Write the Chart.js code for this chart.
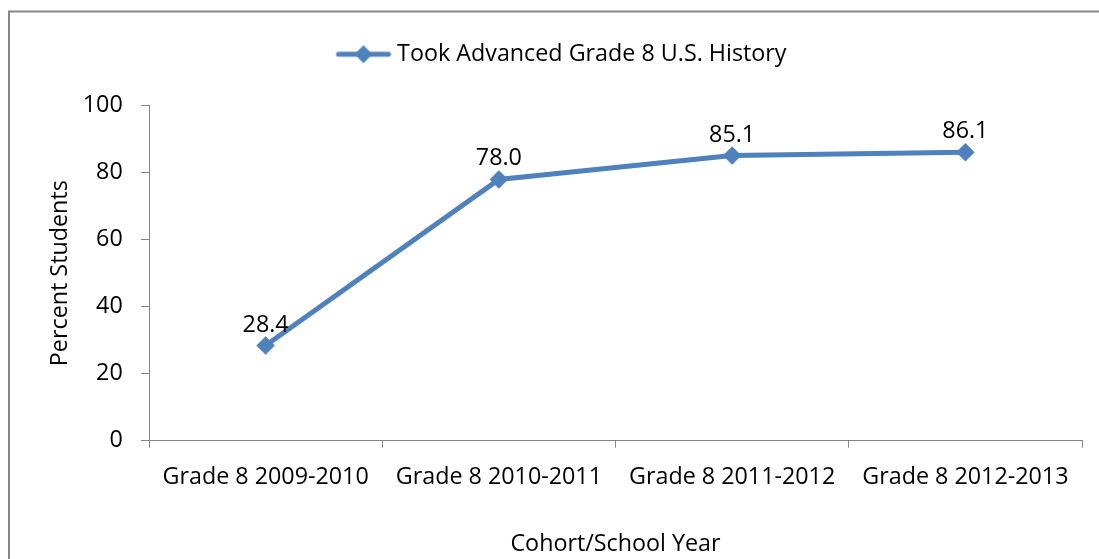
<!DOCTYPE html>
<html>
<head>
<meta charset="utf-8">
<script src="https://cdn.jsdelivr.net/npm/chart.js@4.4.1/dist/chart.umd.min.js"></script>
<style>
  html, body { margin: 0; padding: 0; background: #ffffff; }
  #wrap { position: relative; width: 1099px; height: 559px; }
</style>
</head>
<body>
<div id="wrap"><canvas id="c"></canvas></div>
<script>
const categories = ['Grade 8 2009-2010', 'Grade 8 2010-2011', 'Grade 8 2011-2012', 'Grade 8 2012-2013'];
const seriesName = 'Took Advanced Grade 8 U.S. History';
const seriesValues = [28.4, 78.0, 85.1, 86.1];
const yTicks = [0, 20, 40, 60, 80, 100];
const xTitle = 'Cohort/School Year';
const yTitle = 'Percent Students';

const LINE = '#4F81BD';
const AXIS = '#868686';
const FONT = "'Open Sans', 'Liberation Sans', sans-serif";
const FS = 23.3;

// legend symbol: line with diamond
const sym = document.createElement('canvas');
sym.width = 58; sym.height = 20;
(function () {
  const g = sym.getContext('2d');
  g.strokeStyle = LINE; g.lineWidth = 5; g.lineCap = 'round';
  g.beginPath(); g.moveTo(4, 10); g.lineTo(54, 10); g.stroke();
  g.fillStyle = LINE;
  g.beginPath(); g.moveTo(29 - 9, 10); g.lineTo(29, 1); g.lineTo(29 + 9, 10); g.lineTo(29, 19); g.closePath(); g.fill();
})();

const frame = {
  id: 'frame',
  beforeDraw(chart) {
    const ctx = chart.ctx;
    ctx.save();
    ctx.fillStyle = '#ffffff';
    ctx.fillRect(0, 0, chart.width, chart.height);
    ctx.strokeStyle = AXIS; ctx.lineWidth = 2;
    ctx.beginPath();
    ctx.moveTo(9, chart.height); ctx.lineTo(9, 11.5); ctx.lineTo(chart.width, 11.5);
    ctx.stroke();
    ctx.restore();
  }
};

const valueLabels = {
  id: 'valueLabels',
  afterDatasetsDraw(chart) {
    const ctx = chart.ctx;
    ctx.save();
    ctx.font = FS + 'px ' + FONT;
    ctx.fillStyle = '#000000';
    ctx.textAlign = 'center';
    ctx.textBaseline = 'alphabetic';
    chart.data.datasets.forEach((ds, di) => {
      const meta = chart.getDatasetMeta(di);
      meta.data.forEach((el, i) => {
        ctx.fillText(Number(ds.data[i]).toFixed(1), el.x, el.y - 14);
      });
    });
    ctx.restore();
  }
};

new Chart(document.getElementById('c'), {
  type: 'line',
  data: {
    labels: categories,
    datasets: [{
      label: seriesName,
      data: seriesValues,
      borderColor: LINE,
      backgroundColor: LINE,
      borderWidth: 5,
      pointStyle: 'rectRot',
      pointRadius: 9,
      pointHoverRadius: 9,
      pointBackgroundColor: LINE,
      pointBorderColor: LINE,
      pointBorderWidth: 0.5,
      tension: 0,
      fill: false
    }]
  },
  options: {
    responsive: true,
    maintainAspectRatio: false,
    animation: false,
    events: [],
    layout: { padding: { left: 46, right: 17, top: 0, bottom: 0 } },
    plugins: {
      tooltip: { enabled: false },
      legend: {
        display: true,
        position: 'top',
        labels: {
          usePointStyle: true,
          pointStyle: sym,
          pointStyleWidth: 44,
          padding: 42.6,
          color: '#000000',
          font: { family: FONT, size: FS }
        }
      },
      title: {
        display: true,
        text: '',
        weight: 500,
        padding: 0,
        font: { size: 10, lineHeight: '29.8px' }
      }
    },
    scales: {
      x: {
        type: 'category',
        offset: true,
        grid: { offset: true, drawOnChartArea: false, drawTicks: true, tickLength: 7, color: AXIS, lineWidth: 1 },
        border: { display: true, color: AXIS, width: 1 },
        ticks: { color: '#000000', padding: 15.5, maxRotation: 0, autoSkip: false, font: { family: FONT, size: FS } },
        title: { display: true, text: xTitle, color: '#000000', padding: { top: 0, bottom: 0.8 }, font: { family: FONT, size: FS } },
        afterFit(scale) { scale.height = 118.3; }
      },
      y: {
        min: 0,
        max: 100,
        afterBuildTicks(scale) { scale.ticks = yTicks.map(v => ({ value: v })); },
        grid: { drawOnChartArea: false, drawTicks: true, tickLength: 8, color: AXIS, lineWidth: 1 },
        border: { display: true, color: AXIS, width: 1 },
        ticks: { color: '#000000', padding: 18.3, font: { family: FONT, size: FS } },
        title: { display: true, text: yTitle, color: '#000000', padding: { top: 0.7, bottom: 0 }, font: { family: FONT, size: FS } },
        afterFit(scale) { scale.width = 103; }
      }
    }
  },
  plugins: [frame, valueLabels]
});
</script>
</body>
</html>
